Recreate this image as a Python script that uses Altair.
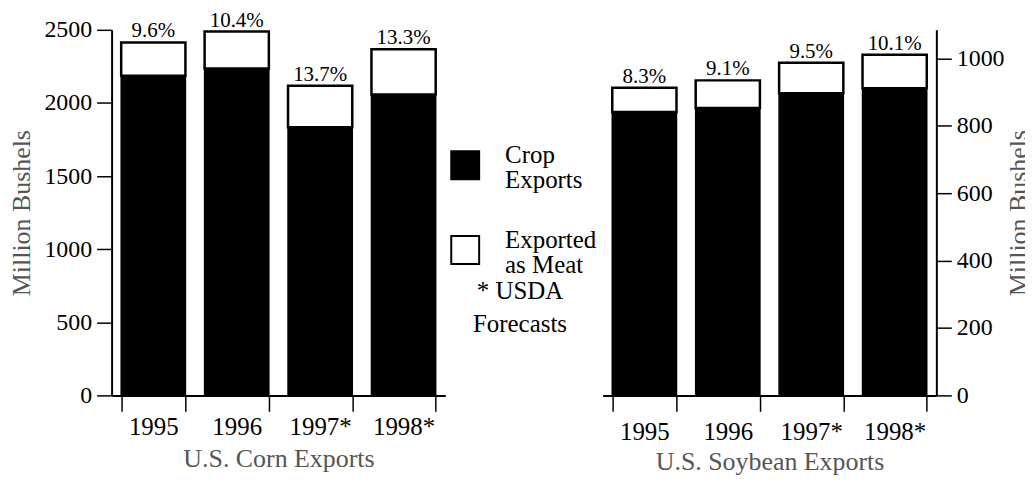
import altair as alt
import pandas as pd

years = ["1995", "1996", "1997*", "1998*"]
corn_crop = [2186, 2236, 1834, 2057]
corn_meat = [228, 252, 284, 311]
corn_pct = ["9.6%", "10.4%", "13.7%", "13.3%"]
soy_crop = [841, 853, 897, 912]
soy_meat = [72, 82, 90, 99]
soy_pct = ["8.3%", "9.1%", "9.5%", "10.1%"]
corn_ticks = [0, 500, 1000, 1500, 2000, 2500]
soy_ticks = [0, 200, 400, 600, 800, 1000]
legend_labels = ["Crop\nExports", "Exported\nas Meat"]
legend_fill = ["black", "white"]
note_text = ["* USDA\nForecasts"]

SERIF = "Liberation Serif"
W = 335
H = 367


def panel(crop, meat, pct, title, ymax, ticks, side, label_pad, title_pad, ytitle_pad):
    df = pd.DataFrame({"year": years, "crop": crop, "meat": meat, "pct": pct})
    base = alt.Chart(df).transform_calculate(total="datum.crop + datum.meat")
    x = alt.X(
        "year:N", sort=years, title=title,
        scale=alt.Scale(paddingInner=0.23, paddingOuter=0.115),
        axis=alt.Axis(
            labelAngle=0, tickBand="extent", tickSize=16, tickWidth=1.5,
            tickColor="black", domainColor="black", domainWidth=2,
            labelFont=SERIF, labelFontSize=25, labelColor="black",
            labelPadding=label_pad, titleFont=SERIF, titleFontSize=26,
            titleFontWeight="normal", titleColor="#555555", titlePadding=title_pad,
        ),
    )
    yscale = alt.Scale(domain=[0, ymax], nice=False, zero=True)
    axis_kw = dict(
        orient=side, values=ticks, format="d", grid=False, tickSize=15, tickWidth=1.5,
        tickColor="black", domainColor="black", domainWidth=2,
        labelFont=SERIF, labelFontSize=24, labelColor="black", labelPadding=5,
        titleFont=SERIF, titleFontSize=26, titleFontWeight="normal",
        titleColor="#555555", titlePadding=ytitle_pad,
    )
    if side == "right":
        axis_kw.update(titleAngle=270, titleBaseline="top")
    yaxis = alt.Axis(**axis_kw)
    ttl = "Million Bushels"
    crop_bar = base.mark_bar(color="black", stroke="black", strokeWidth=1.5).encode(
        x=x, y=alt.Y("crop:Q", scale=yscale, axis=yaxis, title=ttl)
    )
    meat_bar = base.mark_bar(fill="white", stroke="black", strokeWidth=2.5).encode(
        x=x, y=alt.Y("total:Q", scale=yscale, axis=yaxis, title=ttl), y2="crop:Q"
    )
    labels = base.mark_text(
        font=SERIF, fontSize=21, baseline="alphabetic", dy=-5, color="black"
    ).encode(x=x, y=alt.Y("total:Q", scale=yscale, axis=yaxis, title=ttl), text="pct:N")
    return alt.layer(crop_bar, meat_bar, labels).properties(width=W, height=H)


left = panel(corn_crop, corn_meat, corn_pct, "U.S. Corn Exports", 2500, corn_ticks,
             "left", 3, 6, 9.5)
right = panel(soy_crop, soy_meat, soy_pct, "U.S. Soybean Exports", 1085, soy_ticks,
              "right", 8, 4, 2)

leg_df = pd.DataFrame({"label": legend_labels, "fill": legend_fill})
leg_base = alt.Chart(leg_df)
ly = alt.Y("label:N", sort=legend_labels, axis=None,
           scale=alt.Scale(type="point", range=[136, 221], padding=0))
squares = leg_base.mark_square(size=784, stroke="black", strokeWidth=2, opacity=1).encode(
    x=alt.value(20), y=ly, fill=alt.Fill("fill:N", scale=None)
)
texts = leg_base.mark_text(
    align="left", baseline="middle", lineBreak="\n", font=SERIF, fontSize=25,
    lineHeight=25, dy=-10, color="black"
).encode(x=alt.value(60), y=ly, text="label:N")
note = alt.Chart(pd.DataFrame({"t": note_text})).mark_text(
    align="center", baseline="middle", lineBreak="\n", font=SERIF, fontSize=25,
    lineHeight=33, color="black"
).encode(x=alt.value(75), y=alt.value(262), text="t:N")
mid = alt.layer(squares, texts, note).properties(width=158, height=H)

chart = (
    alt.hconcat(left, mid, right, spacing=0, bounds="flush")
    .properties(padding={"left": 0, "top": 0, "right": -7, "bottom": 0})
    .configure_view(strokeWidth=0)
)

chart.save("out.html", embed_options={"renderer": "svg", "actions": False})
